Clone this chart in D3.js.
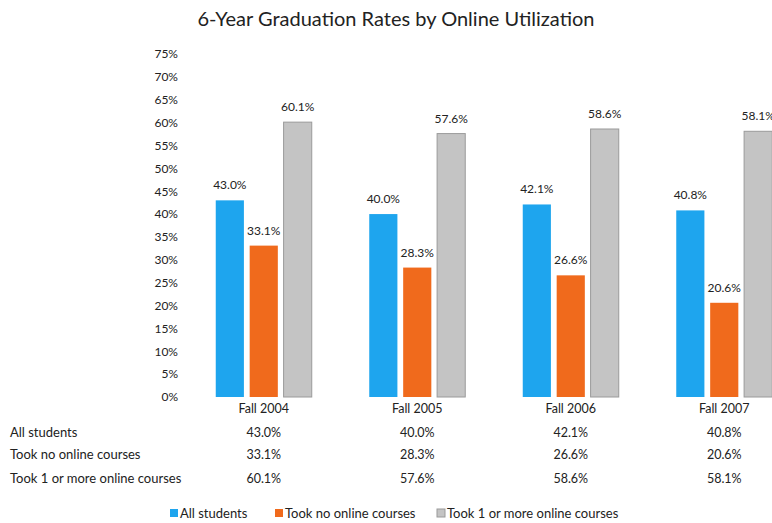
<!DOCTYPE html>
<html>
<head>
<meta charset="utf-8">
<script src="https://cdn.jsdelivr.net/npm/d3@7"></script>
<style>
  body { margin: 0; background: #fff; }
  text { font-family: Lato, "Open Sans", sans-serif; fill: #222; }
</style>
</head>
<body>
<div id="chart"></div>
<script>
var categories = ["Fall 2004", "Fall 2005", "Fall 2006", "Fall 2007"];
var seriesNames = ["All students", "Took no online courses", "Took 1 or more online courses"];
var allStudents = [43.0, 40.0, 42.1, 40.8];
var noOnline = [33.1, 28.3, 26.6, 20.6];
var someOnline = [60.1, 57.6, 58.6, 58.1];
var yTicks = [0, 5, 10, 15, 20, 25, 30, 35, 40, 45, 50, 55, 60, 65, 70, 75];

function init(){
    var w = 772, h = 523;
    var series = [allStudents, noOnline, someOnline];
    var colors = ["#1ea5ee", "#f06a1c", "#c4c4c4"];
    var strokes = ["none", "none", "#9a9a9a"];

    var svg = d3.select("#chart").append("svg")
                .attr("width", w)
                .attr("height", h);

    var x = d3.scaleBand()
              .domain(categories)
              .range([187, 801])
              .paddingInner(0)
              .paddingOuter(0);

    var xs = d3.scaleBand()
               .domain([0, 1, 2])
               .range([x.bandwidth()/2 - 48, x.bandwidth()/2 + 48])
               .paddingInner(0.17);

    var y = d3.scaleLinear()
              .domain([0, 75])
              .range([397, 54]);

    // title
    svg.append("text")
       .attr("x", 396)
       .attr("y", 26)
       .attr("text-anchor", "middle")
       .style("font-size", "20px")
       .text("6-Year Graduation Rates by Online Utilization");

    // y axis labels only
    var yAxis = d3.axisLeft(y)
                  .tickValues(yTicks)
                  .tickFormat(function(d){ return d + "%"; })
                  .tickSize(0)
                  .tickPadding(0);
    var ya = svg.append("g")
                .attr("transform", "translate(178,0)")
                .call(yAxis);
    ya.select(".domain").remove();
    ya.selectAll("text")
      .style("font-size", "12px")
      .style("font-family", "Lato, sans-serif")
      .attr("fill", "#222");

    // bars
    var groups = svg.selectAll("g.grp")
                    .data(categories)
                    .enter()
                    .append("g")
                    .attr("class", "grp")
                    .attr("transform", function(d){ return "translate(" + x(d) + ",0)"; });

    groups.each(function(cat, ci){
        var g = d3.select(this);
        series.forEach(function(s, si){
            g.append("rect")
             .attr("x", xs(si))
             .attr("y", y(s[ci]))
             .attr("width", xs.bandwidth())
             .attr("height", y(0) - y(s[ci]))
             .attr("fill", colors[si])
             .attr("stroke", strokes[si])
             .attr("stroke-width", 1);
            g.append("text")
             .attr("x", xs(si) + xs.bandwidth()/2)
             .attr("y", y(s[ci]) - 11)
             .attr("text-anchor", "middle")
             .style("font-size", "12px")
             .text(s[ci].toFixed(1) + "%");
        });
    });

    // category labels
    svg.selectAll("text.cat")
       .data(categories)
       .enter()
       .append("text")
       .attr("class", "cat")
       .attr("x", function(d){ return x(d) + x.bandwidth()/2; })
       .attr("y", 413)
       .attr("text-anchor", "middle")
       .style("font-size", "12.5px")
       .text(function(d){ return d; });

    // data table
    var rowY = [437, 459, 483];
    series.forEach(function(s, si){
        svg.append("text")
           .attr("x", 10)
           .attr("y", rowY[si])
           .style("font-size", "13px")
           .text(seriesNames[si]);
        svg.selectAll("text.row" + si)
           .data(s)
           .enter()
           .append("text")
           .attr("class", "row" + si)
           .attr("x", function(d, i){ return x(categories[i]) + x.bandwidth()/2; })
           .attr("y", rowY[si])
           .attr("text-anchor", "middle")
           .style("font-size", "12.5px")
           .text(function(d){ return d.toFixed(1) + "%"; });
    });

    // legend
    var legX = [170, 275, 437];
    var leg = svg.selectAll("g.leg")
                 .data(seriesNames)
                 .enter()
                 .append("g")
                 .attr("class", "leg")
                 .attr("transform", function(d, i){ return "translate(" + legX[i] + ",509)"; });
    leg.append("rect")
       .attr("width", 8)
       .attr("height", 8)
       .attr("fill", function(d, i){ return colors[i]; })
       .attr("stroke", function(d, i){ return strokes[i]; });
    leg.append("text")
       .attr("x", 10)
       .attr("y", 9)
       .style("font-size", "13px")
       .text(function(d){ return d; });
}

window.onload = init;
</script>
</body>
</html>
